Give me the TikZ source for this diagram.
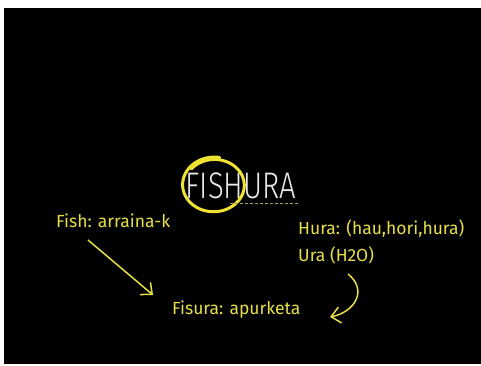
\documentclass[tikz,border=0pt]{standalone}
\usepackage{fontspec}
\setmainfont{Fira Sans}
\newfontfamily\thinfont{Fira Sans Light}[FakeStretch=0.79]
\usepackage{xcolor}
\usetikzlibrary{arrows.meta,positioning,calc}
\definecolor{ink}{HTML}{E6DF45}
\definecolor{ring}{HTML}{EEE233}
\definecolor{dimink}{HTML}{A89C52}
\definecolor{chalk}{HTML}{E8E8E8}
\begin{document}
\begin{tikzpicture}[
 x=1pt,y=-1pt,
 word/.style={text=ink,font=\fontsize{17.5}{20}\selectfont,inner sep=0pt,anchor=west},
 title/.style={text=chalk,font=\thinfont\fontsize{37}{40}\selectfont,inner sep=0pt},
 arr/.style={-{Straight Barb[length=9pt,width=16pt]},draw=ink,line width=1.5pt},
 circ/.style={draw=ring,line width=3pt,line cap=round}
]
\useasboundingbox (0,0) rectangle (481,365);
\fill[white] (0,0) rectangle (481,365);
\fill[black] (4,8) rectangle (481,364);
\node[title] (fishura) at (241,186) {FISHURA};
\node[word] (fish) at (56,221) {Fish: arraina-k};
\node[word] (hura) at (298,229) {Hura: (hau,hori,hura)};
\node[word] (ura) at (298,255) {Ura (H2O)};
\node[word] (fisura) at (172,310) {Fisura: apurketa};
\draw[circ] plot[domain=80:500,samples=90,smooth]
  ({214+32*(1-0.08*(\x-80)/420)*cos(\x)},{185-28*(1-0.1*(\x-80)/420)*sin(\x)});
\draw[dimink,line width=0.6pt,dash pattern=on 3pt off 2pt] (230,203) -- (300,203);
\coordinate (fishtail) at (88,240);
\coordinate (fishtip) at (153,295);
\draw[arr] (fishtail) -- (fishtip);
\coordinate (uratail) at (348,274);
\coordinate (uratip) at (330,317);
\draw[arr] (uratail) .. controls (368,290) and (355,312) .. (uratip);
\end{tikzpicture}
\end{document}
